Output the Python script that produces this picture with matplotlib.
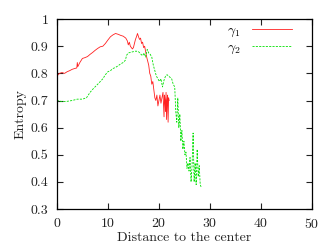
import matplotlib
matplotlib.use('Agg')
import matplotlib.pyplot as plt

# gamma 1 (red, solid)
x1 = [0, 0.5, 1, 1.5, 2, 2.5, 3, 3.5, 3.9, 4.0,
      4.1, 4.5, 5, 5.5, 6, 6.5, 7, 7.5, 8, 8.5,
      9, 9.5, 10, 10.5, 11, 11.5, 12, 12.5, 13, 13.5,
      13.8, 14.0, 14.2, 14.4, 14.6, 14.8, 15.0, 15.2, 15.4, 15.6,
      15.8, 16.0, 16.2, 16.4, 16.6, 16.8, 17.0, 17.2, 17.4, 17.6,
      17.8, 18.0, 18.2, 18.4, 18.6, 18.8, 19.0, 19.2, 19.4, 19.6,
      19.8, 20.0, 20.2, 20.4, 20.6, 20.8, 21.0, 21.1, 21.2, 21.3,
      21.4, 21.5, 21.6, 21.7, 21.8, 21.9, 22.0]
y1 = [0.79, 0.80, 0.803, 0.80, 0.806, 0.81, 0.815, 0.818, 0.82, 0.84,
      0.825, 0.84, 0.855, 0.858, 0.862, 0.87, 0.877, 0.885, 0.892, 0.898,
      0.90, 0.91, 0.923, 0.935, 0.942, 0.947, 0.944, 0.940, 0.937, 0.93,
      0.92, 0.905, 0.915, 0.90, 0.895, 0.89, 0.895, 0.91, 0.925, 0.935,
      0.947, 0.935, 0.925, 0.93, 0.91, 0.915, 0.895, 0.90, 0.88, 0.86,
      0.845, 0.83, 0.80, 0.79, 0.76, 0.77, 0.74, 0.71, 0.70, 0.72,
      0.68, 0.70, 0.72, 0.69, 0.71, 0.73, 0.64, 0.72, 0.70, 0.66,
      0.73, 0.63, 0.70, 0.72, 0.62, 0.71, 0.70]

# gamma 2 (green, dashed)
x2 = [0, 1, 2, 3, 4, 5, 5.8, 6.5, 7.2, 8,
      8.5, 9, 9.5, 10, 10.5, 11, 11.5, 12, 12.5, 13,
      13.4, 13.7, 14, 14.5, 15, 15.5, 16, 16.5, 16.8, 17.1,
      17.4, 17.7, 18, 18.3, 18.6, 18.9, 19.2, 19.5, 19.8, 20.1,
      20.4, 20.7, 21.0, 21.3, 21.6, 21.9, 22.2, 22.5, 22.8, 23.1,
      23.3, 23.5, 23.7, 23.9, 24.1, 24.3, 24.5, 24.7, 24.9, 25.1,
      25.3, 25.5, 25.7, 25.9, 26.1, 26.3, 26.5, 26.7, 26.9, 27.1,
      27.3, 27.5, 27.7, 27.9, 28.1, 28.3]
y2 = [0.70, 0.696, 0.697, 0.70, 0.705, 0.705, 0.71, 0.73, 0.745, 0.76,
      0.77, 0.78, 0.795, 0.806, 0.81, 0.818, 0.822, 0.828, 0.835, 0.84,
      0.848, 0.868, 0.875, 0.878, 0.88, 0.882, 0.88, 0.87, 0.865, 0.875,
      0.86, 0.888, 0.875, 0.87, 0.86, 0.83, 0.81, 0.79, 0.78, 0.77,
      0.78, 0.75, 0.775, 0.79, 0.795, 0.79, 0.785, 0.78, 0.76, 0.75,
      0.66, 0.62, 0.71, 0.60, 0.65, 0.55, 0.59, 0.52, 0.55, 0.50,
      0.51, 0.45, 0.47, 0.44, 0.49, 0.40, 0.46, 0.58, 0.40, 0.47,
      0.39, 0.52, 0.42, 0.46, 0.39, 0.38]

xticks = [0, 10, 20, 30, 40, 50]
yticks = [0.3, 0.4, 0.5, 0.6, 0.7, 0.8, 0.9, 1.0]
yticklabels = ['0.3', '0.4', '0.5', '0.6', '0.7', '0.8', '0.9', '1']

plt.rcParams['font.family'] = ['cmr10', 'DejaVu Serif']
plt.rcParams['mathtext.fontset'] = 'cm'
plt.rcParams['axes.formatter.use_mathtext'] = True
plt.rcParams['font.size'] = 10

fig = plt.figure(figsize=(3.27, 2.48), dpi=100)
ax = fig.add_axes([0.174, 0.157, 0.780, 0.766])

ax.plot(x1, y1, color='#ff2020', lw=0.6, label=r'$\gamma_1$')
ax.plot(x2, y2, color='#00e000', lw=0.6, ls=(0, (2.5, 1.5)), label=r'$\gamma_2$')

ax.set_xlim(0, 50)
ax.set_ylim(0.3, 1.0)
ax.set_xticks(xticks)
ax.set_yticks(yticks)
ax.set_yticklabels(yticklabels)
ax.tick_params(direction='in', top=True, right=True, length=4, width=0.8,
               colors='#222222', labelcolor='#222222', pad=6)
for s in ax.spines.values():
    s.set_linewidth(0.9)

ax.set_xlabel('Distance to the center', labelpad=0, color='#222222')
ax.set_ylabel('Entropy', labelpad=3, color='#222222')

ax.legend(loc='upper right', bbox_to_anchor=(0.922, 0.975), frameon=False,
          markerfirst=False, handlelength=2.9, handletextpad=0.8,
          borderpad=0, borderaxespad=0, labelspacing=0.2, fontsize=10)

fig.savefig('out.png', dpi=100)
